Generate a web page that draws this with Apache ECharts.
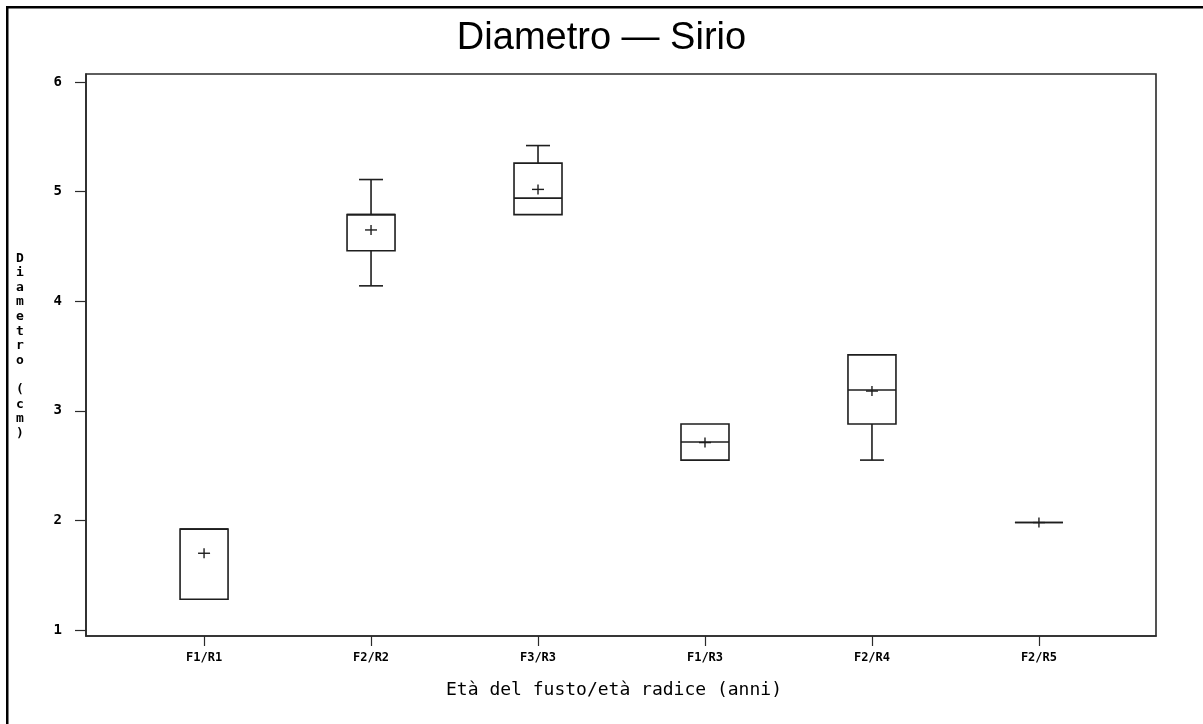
<!DOCTYPE html>
<html>
<head>
<meta charset="utf-8">
<script src="https://cdn.jsdelivr.net/npm/echarts@6/dist/echarts.min.js"></script>
<style>html,body{margin:0;padding:0;background:#fff}#c{width:1203px;height:724px}</style>
</head>
<body>
<div id="c"></div>
<script>
const categories = ['F1/R1', 'F2/R2', 'F3/R3', 'F1/R3', 'F2/R4', 'F2/R5'];
const minV    = [1.28, 4.14, 4.79, 2.55, 2.55, 1.98];
const q1V     = [1.28, 4.46, 4.79, 2.55, 2.88, 1.98];
const medianV = [1.92, 4.79, 4.94, 2.715, 3.19, 1.98];
const q3V     = [1.92, 4.79, 5.26, 2.88, 3.51, 1.98];
const maxV    = [1.92, 5.11, 5.42, 2.88, 3.51, 1.98];
const meanV   = [1.70, 4.65, 5.02, 2.71, 3.18, 1.98];
const yTicks  = [1, 2, 3, 4, 5, 6];
const titleText = 'Diametro \u2014 Sirio';
const yName = 'Diametro (cm)';
const xName = 'Età del fusto/età radice (anni)';

const data = categories.map((c, i) => [i, minV[i], q1V[i], medianV[i], q3V[i], maxV[i], meanV[i]]);
const stroke = '#1e1e1e';

function renderItem(params, api) {
  const i = api.value(0);
  const x = api.coord([i, 1])[0];
  const unit = api.size([1, 0])[0];
  const hw = unit * 0.1437;
  const cw = hw / 2;
  const y = (d) => api.coord([i, api.value(d)])[1];
  const yMin = y(1), yQ1 = y(2), yMed = y(3), yQ3 = y(4), yMax = y(5), yMean = y(6);
  const ls = { stroke: stroke, lineWidth: 1.6, fill: null };
  const ch = [];
  ch.push({ type: 'rect', shape: { x: x - hw, y: yQ3, width: hw * 2, height: yQ1 - yQ3 }, style: ls });
  ch.push({ type: 'line', shape: { x1: x - hw, y1: yMed, x2: x + hw, y2: yMed }, style: ls });
  if (yMax < yQ3 - 0.5) {
    ch.push({ type: 'line', shape: { x1: x, y1: yQ3, x2: x, y2: yMax }, style: ls });
    ch.push({ type: 'line', shape: { x1: x - cw, y1: yMax, x2: x + cw, y2: yMax }, style: ls });
  }
  if (yMin > yQ1 + 0.5) {
    ch.push({ type: 'line', shape: { x1: x, y1: yQ1, x2: x, y2: yMin }, style: ls });
    ch.push({ type: 'line', shape: { x1: x - cw, y1: yMin, x2: x + cw, y2: yMin }, style: ls });
  }
  const ps = { stroke: stroke, lineWidth: 1.4 };
  ch.push({ type: 'line', shape: { x1: x - 6, y1: yMean, x2: x + 6, y2: yMean }, style: ps });
  ch.push({ type: 'line', shape: { x1: x, y1: yMean - 5, x2: x, y2: yMean + 5 }, style: ps });
  return { type: 'group', children: ch };
}

const chart = echarts.init(document.getElementById('c'), null, { renderer: 'canvas' });
chart.setOption({
  animation: false,
  backgroundColor: '#fff',
  title: {
    text: titleText, left: 'center', top: 15,
    textStyle: { fontFamily: 'Liberation Sans', fontSize: 38, fontWeight: 'normal', color: '#000' }
  },
  grid: { left: 86, top: 74, right: 47, bottom: 88, show: true, borderColor: '#2a2a2a', borderWidth: 1.6, backgroundColor: 'transparent' },
  xAxis: {
    type: 'value', min: -0.707, max: 5.701,
    axisLine: { show: true, onZero: false, lineStyle: { color: '#2a2a2a', width: 1.6 } },
    axisTick: { show: true, customValues: [0, 1, 2, 3, 4, 5], length: 10, inside: false, lineStyle: { color: '#2a2a2a', width: 1.2 } },
    axisLabel: { customValues: [0, 1, 2, 3, 4, 5], formatter: (v) => categories[Math.round(v)] || '', margin: 16,
      fontFamily: 'DejaVu Sans Mono', fontSize: 12, fontWeight: 'bold', color: '#000' },
    splitLine: { show: false }
  },
  yAxis: {
    type: 'value', min: 0.945, max: 6.073,
    axisLine: { show: true, onZero: false, lineStyle: { color: '#2a2a2a', width: 1.6 } },
    axisTick: { show: true, customValues: yTicks, length: 11, inside: false, lineStyle: { color: '#2a2a2a', width: 1.2 } },
    axisLabel: { customValues: yTicks, margin: 24, fontFamily: 'DejaVu Sans Mono', fontSize: 14, fontWeight: 'bold', color: '#000' },
    splitLine: { show: false }
  },
  graphic: [
    { type: 'rect', shape: { x: 6, y: 6, width: 1197, height: 2.5 }, style: { fill: '#000' } },
    { type: 'rect', shape: { x: 6, y: 6, width: 2.5, height: 718 }, style: { fill: '#000' } },
    { type: 'text', x: 20, y: 251,
      style: { text: yName.split('').join('\n'), font: 'bold 13px "DejaVu Sans Mono"', lineHeight: 14.6, fill: '#000', align: 'center' } },
    { type: 'text', x: 614, y: 690,
      style: { text: xName, font: '18px "DejaVu Sans Mono"', fill: '#000', align: 'center', verticalAlign: 'middle' } }
  ],
  series: [{ type: 'custom', renderItem: renderItem, data: data, encode: { x: 0, y: [1, 2, 3, 4, 5, 6] }, silent: true }]
});
</script>
</body>
</html>
